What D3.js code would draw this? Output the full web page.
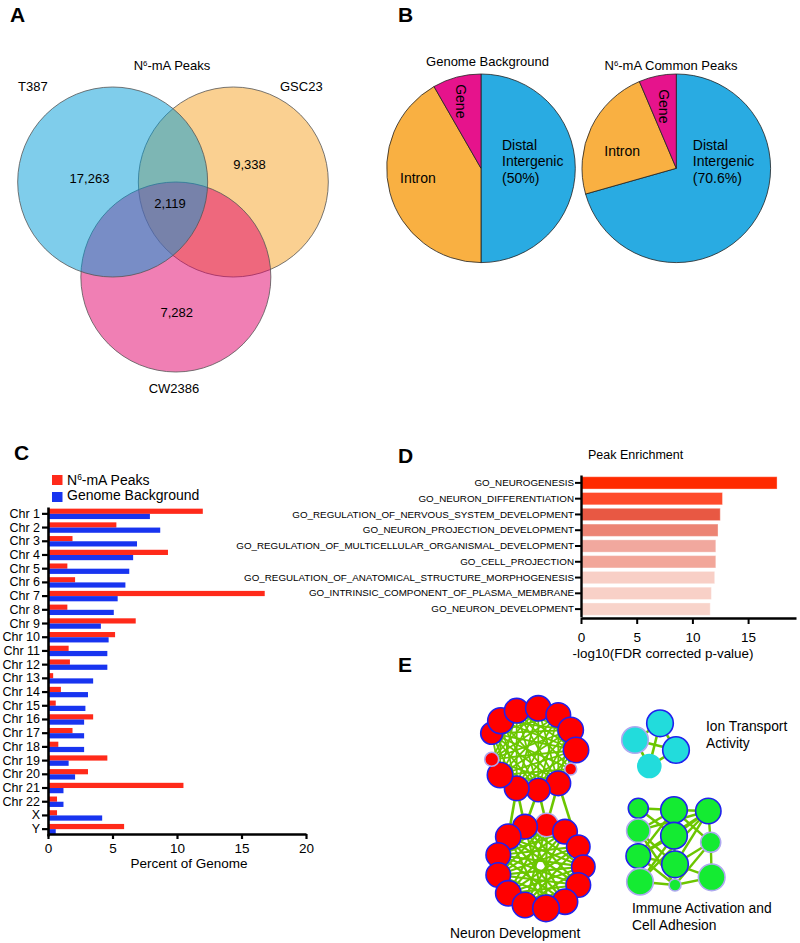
<!DOCTYPE html>
<html>
<head>
<meta charset="utf-8">
<script src="https://cdn.jsdelivr.net/npm/d3@7"></script>
<style>
  body { margin: 0; background: #fff; }
  svg { display: block; font-family: "Liberation Sans", Arial, sans-serif; }
</style>
</head>
<body>
<svg id="fig" width="800" height="943"></svg>
<script>
// ---- panel A : venn counts
const vennSets = ['T387', 'GSC23', 'CW2386'];
const vennOnly = ['17,263', '9,338', '7,282'];
const vennCore = '2,119';

// ---- panel B : genomic distribution (%)
const pieParts = ['Distal Intergenic', 'Intron', 'Gene'];
const pieGenome = [50, 41.7, 8.3];
const pieCommon = [70.6, 23.0, 6.4];

// ---- panel C : percent of genome per chromosome
const chroms = ['Chr 1', 'Chr 2', 'Chr 3', 'Chr 4', 'Chr 5', 'Chr 6', 'Chr 7', 'Chr 8', 'Chr 9', 'Chr 10',
  'Chr 11', 'Chr 12', 'Chr 13', 'Chr 14', 'Chr 15', 'Chr 16', 'Chr 17', 'Chr 18', 'Chr 19', 'Chr 20',
  'Chr 21', 'Chr 22', 'X', 'Y'];
const peakPct = [12.0, 5.3, 1.9, 9.3, 1.5, 2.1, 16.8, 1.5, 6.8, 5.2, 1.6, 1.7, 0.4, 1.0, 0.6, 3.5, 1.9, 0.8, 4.6, 3.1, 10.5, 0.7, 0.7, 5.9];
const genomePct = [7.9, 8.7, 6.9, 6.6, 6.3, 6.0, 5.4, 5.1, 4.1, 4.7, 4.6, 4.6, 3.5, 3.1, 2.9, 2.8, 2.8, 2.8, 1.6, 2.1, 1.2, 1.2, 4.2, 0.6];
const pctTicks = [0, 5, 10, 15, 20];

// ---- panel D : GO enrichment
const goTerms = ['GO_NEUROGENESIS', 'GO_NEURON_DIFFERENTIATION', 'GO_REGULATION_OF_NERVOUS_SYSTEM_DEVELOPMENT',
  'GO_NEURON_PROJECTION_DEVELOPMENT', 'GO_REGULATION_OF_MULTICELLULAR_ORGANISMAL_DEVELOPMENT', 'GO_CELL_PROJECTION',
  'GO_REGULATION_OF_ANATOMICAL_STRUCTURE_MORPHOGENESIS', 'GO_INTRINSIC_COMPONENT_OF_PLASMA_MEMBRANE', 'GO_NEURON_DEVELOPMENT'];
const goScore = [17.6, 12.7, 12.5, 12.3, 12.1, 12.1, 12.0, 11.7, 11.6];
const goColors = ['#ff2a00', '#ff4b2b', '#e85843', '#ec8474', '#f1a89e', '#f2a699', '#f8cfc6', '#f8d0c7', '#f8d3ca'];
const goTicks = [0, 5, 10, 15];

// ---- panel E : network layout [x, y, r, border] (border 1 = blue, 2 = pale, 0 = none)
const netTop = [[51.7, 73.3, 11, 1], [60.7, 60.7, 13, 1], [76.7, 50.7, 12.3, 1], [98.3, 48.3, 12.7, 1],
  [118.3, 55, 12.3, 1], [130.7, 70, 12.7, 1], [136, 90, 12.7, 1], [130.7, 109, 6, 2], [118.3, 123.3, 12.3, 1],
  [98.3, 130, 11.7, 1], [76.7, 128.3, 12.3, 1], [60, 115, 12.7, 1], [51.7, 99.3, 7, 2]];
const netBottom = [[106.7, 165, 11.7, 2], [85, 166.7, 12.3, 1], [125, 171.7, 12.3, 1], [68.3, 176.7, 12.7, 1],
  [138.3, 186.7, 11.7, 1], [58.3, 195, 12.3, 1], [143.3, 206.7, 11.7, 1], [58.3, 215, 12.3, 1],
  [138.3, 225, 12.3, 1], [68.3, 233.3, 12.7, 1], [125, 241.7, 12.7, 1], [85, 245, 12.7, 1], [106, 248.3, 13.3, 1]];
const netIon = [[220, 63.3, 13.3, 1], [195, 80, 13.3, 2], [236, 90, 13.3, 1], [209.3, 106, 12.3, 0]];
const netImmune = [[198.3, 148.3, 10, 1], [234, 150, 13.3, 1], [268.3, 151, 12.7, 1], [198.3, 170.7, 11.7, 2],
  [234, 175.7, 13.3, 1], [270.7, 182.3, 10, 2], [198.3, 196, 12.3, 1], [235, 204.3, 13.3, 1],
  [200, 221.7, 13.3, 2], [235, 225, 6, 2], [271.7, 217.3, 13.3, 2]];
const topLinks = '0-2 0-3 0-4 0-5 0-6 0-7 0-8 0-9 0-10 0-11 1-3 1-4 1-5 1-6 1-8 1-9 1-10 1-11 2-4 2-5 2-6 2-7 2-8 2-9 2-10 2-11 2-12 3-5 3-6 3-8 3-9 3-10 3-11 3-12 4-6 4-7 4-8 4-9 4-10 4-11 4-12 5-7 5-8 5-9 5-10 5-11 5-12 6-8 6-9 6-10 6-11 6-12 7-9 7-10 7-11 8-10 8-11 8-12 9-11 9-12 10-12';
const bottomLinks = '0-5 0-7 0-9 0-11 0-12 1-4 1-6 1-8 1-10 1-12 2-3 2-5 2-7 2-9 2-11 3-6 3-8 3-10 3-12 4-5 4-7 4-9 4-11 5-6 5-8 5-10 6-7 6-9 6-11 7-8 7-10 8-9 8-11 9-12 10-11';
const crossLinks = '10-3 10-1 9-1 9-0 8-0 8-4';
const ionLinks = '0-1 0-2 1-3 2-3 0-3 1-2';
const immuneLinks = '0-1 1-2 0-3 3-6 6-8 8-9 9-10 2-5 5-10 1-4 4-7 7-9 2-3 2-6 2-8 2-7 1-3 1-6 3-7 3-9 4-6 4-8 6-7 6-9 7-10 5-7 5-9 0-4 1-5 2-4';

const svg = d3.select('#fig');

const letter = (t, x, y) => svg.append('text')
  .attr('x', x).attr('y', y)
  .attr('font-size', 21).attr('font-weight', 700)
  .text(t);

const n6Text = (g, x, y, rest, size, anchor) => {
  const t = g.append('text')
    .attr('x', x).attr('y', y)
    .attr('font-size', size)
    .attr('text-anchor', anchor || 'start');
  t.append('tspan').text('N');
  t.append('tspan').attr('baseline-shift', 'super').attr('font-size', size * 0.6).text('6');
  t.append('tspan').text(rest);
  return t
};

// ================= A : Venn
letter('A', 10, 22);
const gA = svg.append('g');
const vx = d3.scaleLinear().domain([-1, 1]).range([78, 268]);
const vy = d3.scaleLinear().domain([-1, 1]).range([87, 277]);
const vennCircles = [
  { name: 'GSC23', cx: 0.635, cy: 0, color: '#f5a123' },
  { name: 'CW2386', cx: 0.03, cy: 1.0, color: '#e10069' },
  { name: 'T387', cx: -0.635, cy: 0, color: '#009bd7' },
];
gA.selectAll('circle.venn')
  .data(vennCircles)
  .enter()
  .append('circle')
  .attr('class', 'venn')
  .attr('cx', d => vx(d.cx))
  .attr('cy', d => vy(d.cy))
  .attr('r', vx(1) - vx(0))
  .attr('fill', d => d.color)
  .attr('fill-opacity', 0.5)
  .attr('stroke', '#555')
  .attr('stroke-width', 0.8);

n6Text(gA, 172, 70, '-mA Peaks', 13, 'middle');
gA.append('text').attr('x', 18).attr('y', 91).attr('font-size', 13).text(vennSets[0]);
gA.append('text').attr('x', 280).attr('y', 91).attr('font-size', 13).text(vennSets[1]);
gA.append('text').attr('x', 174).attr('y', 393).attr('font-size', 13).attr('text-anchor', 'middle').text(vennSets[2]);
const vennNums = [[vennOnly[0], 89.5, 183], [vennOnly[1], 249.5, 169], [vennOnly[2], 176.7, 317], [vennCore, 170, 208]];
gA.selectAll('text.num')
  .data(vennNums)
  .enter()
  .append('text')
  .attr('class', 'num')
  .attr('x', d => d[1]).attr('y', d => d[2])
  .attr('font-size', 13)
  .attr('text-anchor', 'middle')
  .text(d => d[0]);

// ================= B : pies
letter('B', 398, 22);
const pieColors = d3.scaleOrdinal().domain(pieParts).range(['#29abe2', '#f9b042', '#e6138c']);
const pie = d3.pie().sort(null);
const arc = d3.arc().innerRadius(0).outerRadius(94.3);

const drawPie = (vals, cx, cy, labels) => {
  const g = svg.append('g').attr('transform', `translate(${cx},${cy})`);
  g.selectAll('path')
    .data(pie(vals))
    .enter()
    .append('path')
    .attr('d', arc)
    .attr('fill', (d, i) => pieColors(pieParts[i]))
    .attr('stroke', '#222')
    .attr('stroke-width', 0.8);
  const dist = g.append('text').attr('font-size', 14);
  labels.distal.forEach((l, i) => {
    dist.append('tspan').attr('x', labels.dx).attr('y', [-18, -2, 15][i]).text(l)
  });
  g.append('text').attr('x', labels.ix).attr('y', labels.iy).attr('font-size', 14).text('Intron');
  g.append('text')
    .attr('transform', `translate(${labels.gx},${labels.gy}) rotate(90)`)
    .attr('text-anchor', 'middle')
    .attr('dominant-baseline', 'central')
    .attr('font-size', 14)
    .text('Gene');
  return g
};
drawPie(pieGenome, 481, 168.3, { distal: ['Distal', 'Intergenic', `(${pieGenome[0]}%)`], dx: 21, ix: -81, iy: 14.5, gx: -20, gy: -67 });
drawPie(pieCommon, 676.3, 168.3, { distal: ['Distal', 'Intergenic', `(${pieCommon[0]}%)`], dx: 16.5, ix: -72, iy: -12.6, gx: -12, gy: -62 });
svg.append('text').attr('x', 487.5).attr('y', 66).attr('font-size', 13).attr('text-anchor', 'middle').text('Genome Background');
n6Text(svg, 671, 70, '-mA Common Peaks', 13, 'middle');

// ================= C : chromosome bars
letter('C', 14, 460);
const gC = svg.append('g');
const cx = d3.scaleLinear().domain([0, 20]).range([48, 306]);
const cy = d3.scaleBand().domain(chroms).range([507, 836]).paddingInner(0.24).paddingOuter(0.12);
const cSub = d3.scaleBand().domain(['peak', 'genome']).range([0, cy.bandwidth()]);
const cRed = '#ff2a1a';
const cBlue = '#1834f0';

gC.selectAll('rect.peak')
  .data(chroms)
  .enter()
  .append('rect')
  .attr('class', 'peak')
  .attr('x', cx(0))
  .attr('y', d => cy(d) + cSub('peak'))
  .attr('width', (d, i) => cx(peakPct[i]) - cx(0))
  .attr('height', cSub.bandwidth())
  .attr('fill', cRed);
gC.selectAll('rect.genome')
  .data(chroms)
  .enter()
  .append('rect')
  .attr('class', 'genome')
  .attr('x', cx(0))
  .attr('y', d => cy(d) + cSub('genome'))
  .attr('width', (d, i) => cx(genomePct[i]) - cx(0))
  .attr('height', cSub.bandwidth())
  .attr('fill', cBlue);

const cyAxis = gC.append('g')
  .attr('transform', `translate(${cx(0)},0)`)
  .call(d3.axisLeft(cy).tickSize(6).tickSizeOuter(0).tickPadding(2));
const cxAxis = gC.append('g')
  .attr('transform', 'translate(0,834)')
  .call(d3.axisBottom(cx).tickValues(pctTicks).tickSize(5).tickSizeOuter(0).tickPadding(4));
[cyAxis, cxAxis].forEach(a => {
  a.select('.domain').attr('stroke', '#000').attr('stroke-width', 2.6);
  a.selectAll('.tick line').attr('stroke', '#000').attr('stroke-width', 2.2);
  a.selectAll('.tick text').attr('fill', '#000').attr('font-family', null)
});
cyAxis.selectAll('.tick text').attr('font-size', 12.5);
cxAxis.selectAll('.tick text').attr('font-size', 13.5);
gC.append('text').attr('x', 189).attr('y', 868).attr('font-size', 13.5).attr('text-anchor', 'middle').text('Percent of Genome');

gC.append('rect').attr('x', 52).attr('y', 475).attr('width', 10.5).attr('height', 10).attr('fill', cRed);
gC.append('rect').attr('x', 52).attr('y', 492).attr('width', 10.5).attr('height', 10).attr('fill', cBlue);
n6Text(gC, 67, 484.5, '-mA Peaks', 14);
gC.append('text').attr('x', 67).attr('y', 500).attr('font-size', 14).text('Genome Background');

// ================= D : GO enrichment
letter('D', 398, 463);
const gD = svg.append('g');
const dx = d3.scaleLinear().domain([0, 19.3]).range([581, 796]);
const dy = d3.scaleBand().domain(goTerms).range([475, 617]).paddingInner(0.22).paddingOuter(0.11);
gD.selectAll('rect')
  .data(goTerms)
  .enter()
  .append('rect')
  .attr('x', dx(0))
  .attr('y', d => dy(d))
  .attr('width', (d, i) => dx(goScore[i]) - dx(0))
  .attr('height', dy.bandwidth())
  .attr('fill', (d, i) => goColors[i])
  .attr('stroke', 'rgba(255,255,255,0.35)')
  .attr('stroke-width', 1);
const dyAxis = gD.append('g')
  .attr('transform', `translate(${dx(0)},0)`)
  .call(d3.axisLeft(dy).tickSize(6).tickSizeOuter(0).tickPadding(1));
const dxAxis = gD.append('g')
  .attr('transform', 'translate(0,618)')
  .call(d3.axisBottom(dx).tickValues(goTicks).tickSize(6).tickSizeOuter(0).tickPadding(8));
[dyAxis, dxAxis].forEach(a => {
  a.select('.domain').attr('stroke', '#000').attr('stroke-width', 2.4);
  a.selectAll('.tick line').attr('stroke', '#000').attr('stroke-width', 2);
  a.selectAll('.tick text').attr('fill', '#000').attr('font-family', null)
});
dyAxis.selectAll('.tick text').attr('font-size', 9.8);
dxAxis.selectAll('.tick text').attr('font-size', 13.5);
gD.append('text').attr('x', 663).attr('y', 658).attr('font-size', 13.4).attr('text-anchor', 'middle').text('-log10(FDR corrected p-value)');
gD.append('text').attr('x', 588).attr('y', 459).attr('font-size', 12.5).text('Peak Enrichment');

// ================= E : network
letter('E', 398, 672);
const gE = svg.append('g');
const ex = d3.scaleLinear().domain([0, 300]).range([440, 740]);
const ey = d3.scaleLinear().domain([0, 283]).range([660, 943]);
const linkColor = '#6cc600';
const parseLinks = (s, a, b) => s.split(' ').map(p => {
  const [i, j] = p.split('-').map(Number);
  return [a[i], (b || a)[j]]
});
const allLinks = [
  ...parseLinks(topLinks, netTop).map(l => ({ l, w: 1.8 })),
  ...parseLinks(bottomLinks, netBottom).map(l => ({ l, w: 2.2 })),
  ...parseLinks(crossLinks, netTop, netBottom).map(l => ({ l, w: 2.6 })),
  ...parseLinks(ionLinks, netIon).map(l => ({ l, w: 2.6 })),
  ...parseLinks(immuneLinks, netImmune).map(l => ({ l, w: 2.4 })),
];
gE.append('g').selectAll('line')
  .data(allLinks)
  .enter()
  .append('line')
  .attr('x1', d => ex(d.l[0][0])).attr('y1', d => ey(d.l[0][1]))
  .attr('x2', d => ex(d.l[1][0])).attr('y2', d => ey(d.l[1][1]))
  .attr('stroke', linkColor)
  .attr('stroke-width', d => d.w);

const borderColor = ['none', '#2020ee', '#aea8f0'];
const drawNodes = (nodes, fill) => gE.append('g').selectAll('circle')
  .data(nodes)
  .enter()
  .append('circle')
  .attr('cx', d => ex(d[0]))
  .attr('cy', d => ey(d[1]))
  .attr('r', d => d[2])
  .attr('fill', fill)
  .attr('stroke', d => borderColor[d[3]])
  .attr('stroke-width', 1.6);
drawNodes(netTop, '#ff0000');
drawNodes(netBottom, '#ff0000');
drawNodes(netIon, '#22dcdc');
drawNodes(netImmune, '#14eb32');

const eLabels = [['Neuron Development', 450, 938], ['Ion Transport', 706, 731], ['Activity', 706, 747.5],
  ['Immune Activation and', 632, 913], ['Cell Adhesion', 632, 930]];
gE.selectAll('text.lab')
  .data(eLabels)
  .enter()
  .append('text')
  .attr('class', 'lab')
  .attr('x', d => d[1]).attr('y', d => d[2])
  .attr('font-size', 13.8)
  .text(d => d[0]);
</script>
</body>
</html>
